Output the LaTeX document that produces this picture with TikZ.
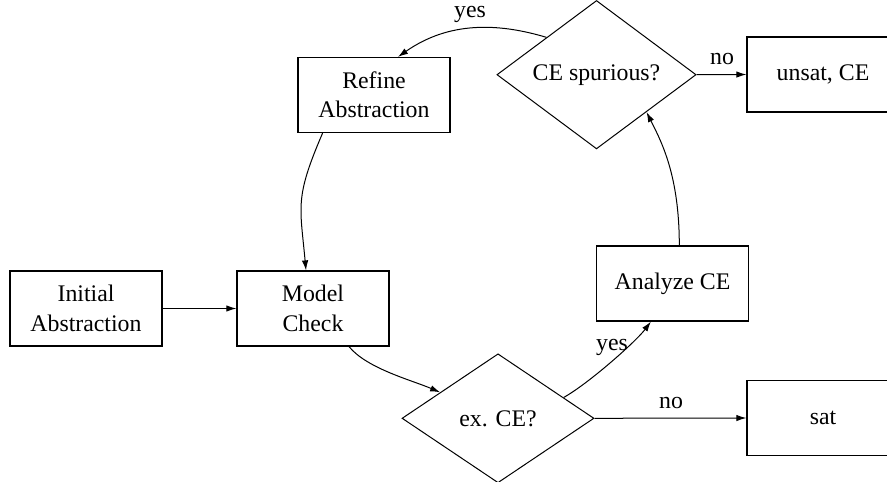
\documentclass[tikz,border=0pt]{standalone}
\usepackage{fontspec}
\setmainfont{Liberation Serif}
\usetikzlibrary{shapes.geometric,arrows.meta,calc}
\begin{document}
\begin{tikzpicture}[x=0.5pt,y=-0.5pt,
  every node/.style={font=\fontsize{11.9}{14.7}\selectfont, align=center},
  box/.style={draw, line width=0.6pt, minimum width=76pt, minimum height=37.5pt, inner sep=0pt},
  decision/.style={draw, diamond, line width=0.5pt, inner sep=0pt},
  flow/.style={line width=0.5pt, -{Latex[length=5pt,width=3.2pt]}},
  lbl/.style={inner sep=0pt}]
\useasboundingbox (0,0) rectangle (887,481);
\clip (0,0) rectangle (887,481);

% process steps
\node[box] (init) at (86,308.5) {Initial\\Abstraction};
\node[box] (mc)   at (313,308.5) {Model\\Check};
\node[box] (ref)  at (374,95) {Refine\\Abstraction};
\node[box] (ana)  at (672.5,283.5) {Analyze CE};
\node[box] (unsat) at (823,74.5) {unsat, CE};
\node[box] (sat)  at (823,418) {sat};

% decisions
\node[decision, minimum width=96pt, minimum height=64.5pt] (ex) at (498,418.3) {ex. CE?};
\node[decision, minimum width=99.6pt, minimum height=66.4pt] (spur) at (596.5,74.7) {CE spurious?};

% connectors
\draw[flow] (init) -- (mc);
\draw[flow] ([xshift=-25.7pt]ref.south) .. controls +(-28,65) and +(-6,-65) .. ([xshift=-3.5pt]mc.north);
\draw[flow] ([xshift=18pt]mc.south) .. controls +(18,22) and +(-28,-12) .. ($(ex.west)!0.4!(ex.north)$);
\draw[flow] ($(ex.north)!0.68!(ex.east)$) .. controls +(25,-14) and +(-15,20) .. ([xshift=-10.8pt]ana.south);
\draw[flow] (ex.east) -- (sat.west);
\draw[flow] ([xshift=3.4pt]ana.north) .. controls +(0,-70) and +(15,30) .. ($(spur.south)!0.5!(spur.east)$);
\draw[flow] (spur.east) -- (unsat.west);
\draw[flow] ($(spur.west)!0.5!(spur.north)$) .. controls +(-50,-15) and +(50,-35) .. ([xshift=12pt]ref.north);

% branch labels
\node[lbl] (yesA) at (470,14) {yes};
\node[lbl] (noA)  at (722,59) {no};
\node[lbl] (yesB) at (612,347) {yes};
\node[lbl] (noB)  at (671,403) {no};
\end{tikzpicture}
\end{document}
